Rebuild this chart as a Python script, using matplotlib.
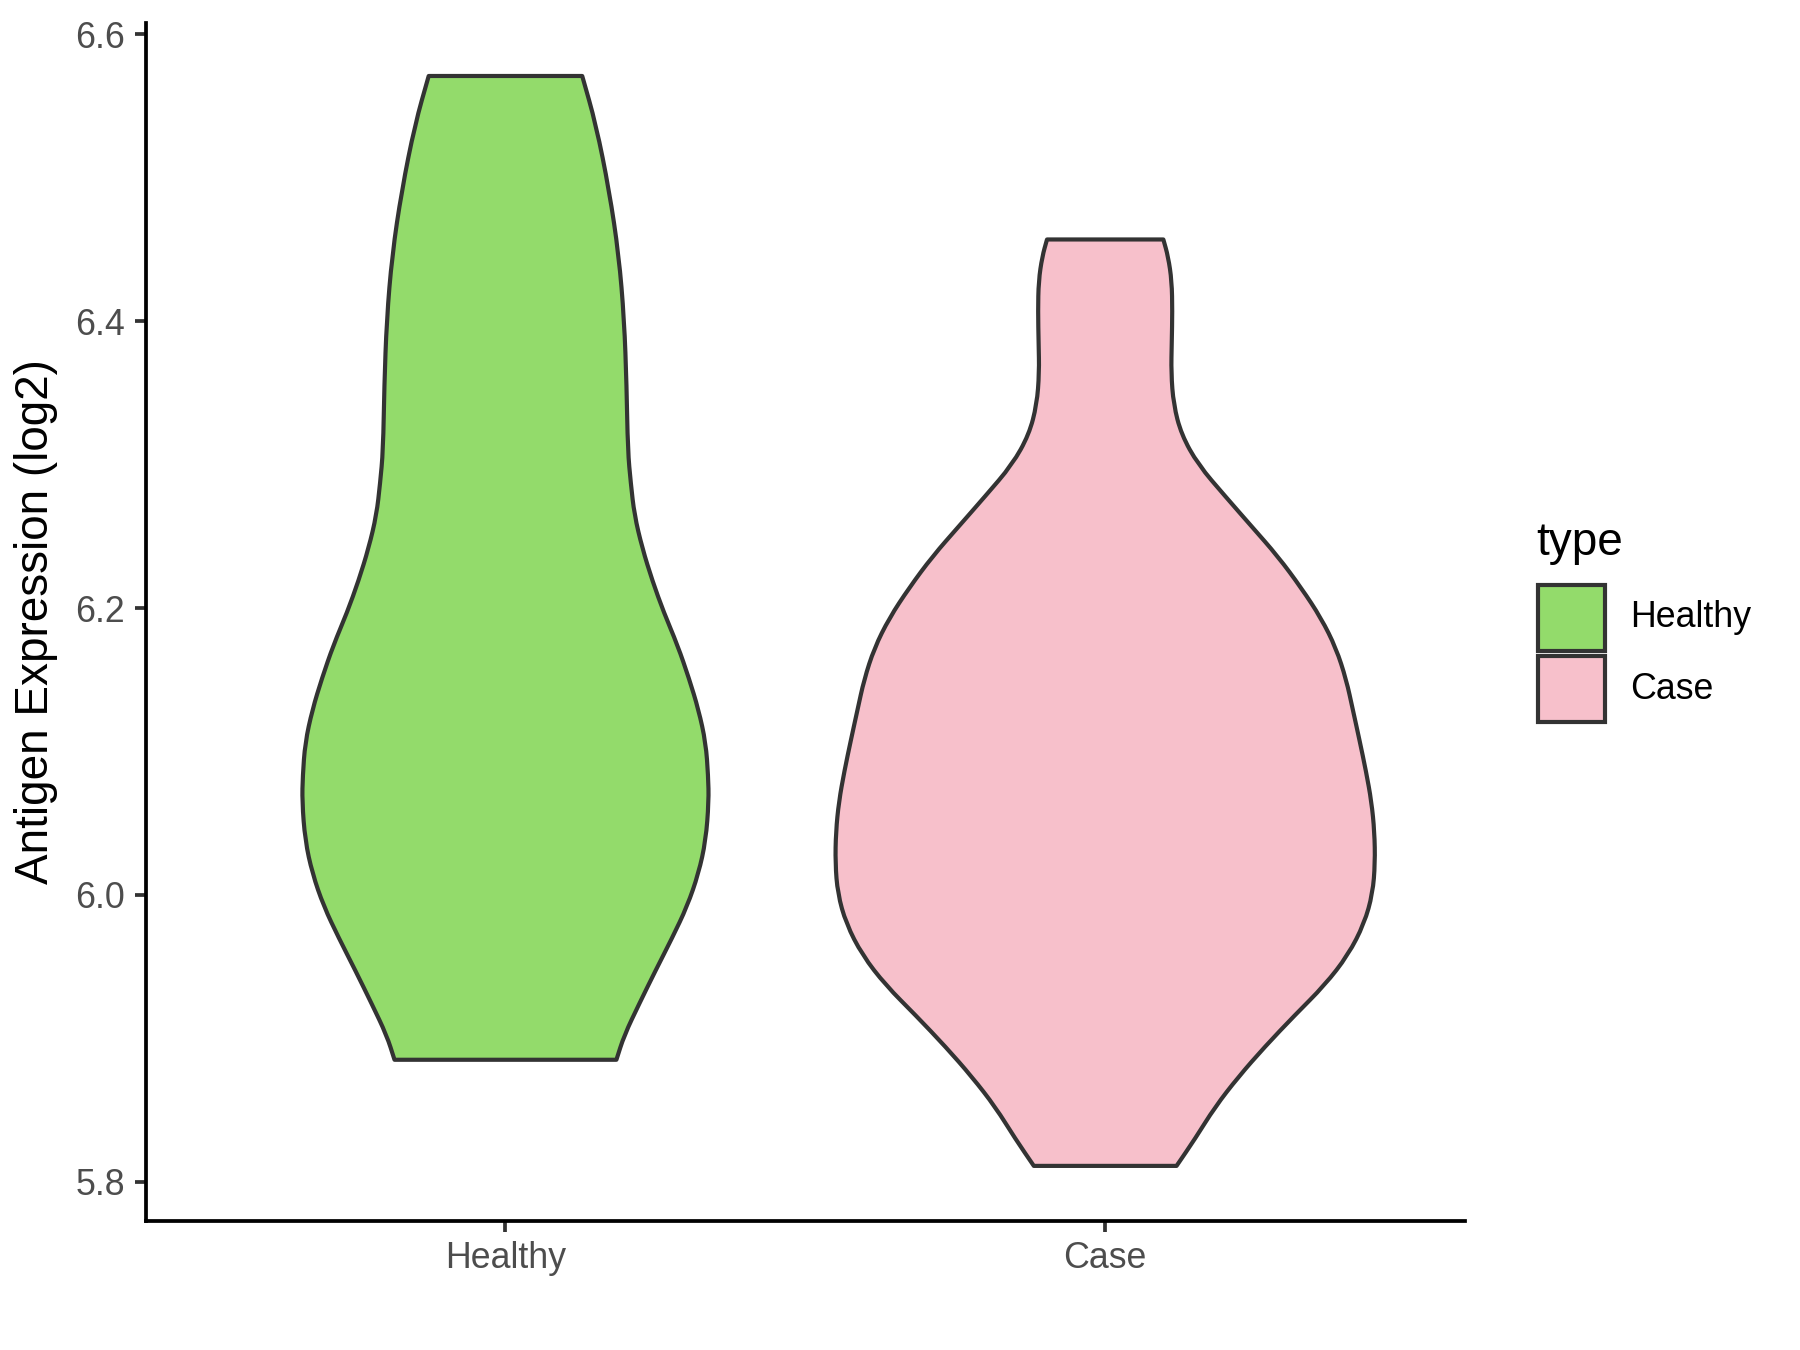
import numpy as np
import matplotlib.pyplot as plt
from matplotlib.patches import Rectangle, PathPatch
from matplotlib.path import Path

plt.rcParams['font.family'] = ['Liberation Sans', 'DejaVu Sans']

# categories and colours
groups = ['Healthy', 'Case']
fill_colors = ['#93DB6B', '#F7C0CB']

# violin outlines: expression level and half width
healthy_y = [6.571, 6.537, 6.491, 6.446, 6.401, 6.355, 6.310, 6.287, 6.265,
             6.242, 6.219, 6.197, 6.174, 6.151, 6.129, 6.106, 6.083, 6.065,
             6.038, 6.015, 5.992, 5.970, 5.947, 5.924, 5.902, 5.885]
healthy_hw = [0.128, 0.151, 0.173, 0.189, 0.198, 0.202, 0.204, 0.209, 0.215,
              0.228, 0.245, 0.264, 0.287, 0.306, 0.322, 0.334, 0.338, 0.339,
              0.334, 0.322, 0.303, 0.278, 0.250, 0.223, 0.198, 0.185]

case_y = [6.457, 6.445, 6.428, 6.407, 6.385, 6.364, 6.342, 6.321, 6.300,
          6.278, 6.257, 6.236, 6.214, 6.193, 6.172, 6.150, 6.129, 6.108,
          6.086, 6.065, 6.044, 6.022, 6.001, 5.980, 5.958, 5.937, 5.916,
          5.894, 5.873, 5.852, 5.830, 5.811]
case_hw = [0.097, 0.105, 0.111, 0.112, 0.111, 0.110, 0.114, 0.127, 0.155,
           0.200, 0.244, 0.288, 0.327, 0.360, 0.385, 0.402, 0.413, 0.424,
           0.435, 0.444, 0.449, 0.450, 0.446, 0.432, 0.405, 0.366, 0.316,
           0.266, 0.222, 0.183, 0.150, 0.119]

profiles = [(healthy_y, healthy_hw), (case_y, case_hw)]


def smooth_side(pts):
    # quadratic curves through midpoints so the side has no corners
    verts = [pts[0], (pts[0] + pts[1]) / 2]
    codes = [Path.LINETO, Path.LINETO]
    for i in range(1, len(pts) - 1):
        verts += [pts[i], (pts[i] + pts[i + 1]) / 2]
        codes += [Path.CURVE3, Path.CURVE3]
    verts.append(pts[-1])
    codes.append(Path.LINETO)
    return verts, codes


def violin_path(pos, ys, hws):
    ys = np.array(ys)
    hws = np.array(hws)
    left = np.column_stack([pos - hws, ys])
    right = np.column_stack([pos + hws, ys])[::-1]
    v1, c1 = smooth_side(left)
    v2, c2 = smooth_side(right)
    c1[0] = Path.MOVETO
    verts = v1 + v2 + [left[0]]
    codes = c1 + c2 + [Path.CLOSEPOLY]
    return Path(np.array(verts), codes)


fig = plt.figure(figsize=(6, 4.5), dpi=300)
ax = fig.add_axes([0.0809, 0.0958, 0.733, 0.8869])

edge = '#333333'
for i, (ys, hws) in enumerate(profiles):
    patch = PathPatch(violin_path(i + 1, ys, hws), facecolor=fill_colors[i],
                      edgecolor=edge, linewidth=1.0, joinstyle='round')
    ax.add_patch(patch)

ax.set_xlim(0.4, 2.6)
ax.set_ylim(5.7728, 6.6077)
ax.set_xticks([1, 2])
ax.set_xticklabels(groups)
ax.set_yticks([5.8, 6.0, 6.2, 6.4, 6.6])
ax.set_yticklabels(['5.8', '6.0', '6.2', '6.4', '6.6'])

for s in ['top', 'right']:
    ax.spines[s].set_visible(False)
for s in ['left', 'bottom']:
    ax.spines[s].set_linewidth(0.9)
    ax.spines[s].set_color('black')
ax.tick_params(axis='both', length=2.75, width=0.9, color='#333333',
               labelcolor='#4D4D4D', labelsize=8.6, pad=2.2)
ax.set_ylabel('Antigen Expression (log2)', fontsize=11, color='black', labelpad=4)

# legend
fig.text(0.8537, 0.5889, 'type', fontsize=11, va='baseline', ha='left')
key_bottoms = [0.5181, 0.4652]
label_ys = [0.5426, 0.4896]
for i, g in enumerate(groups):
    fig.add_artist(Rectangle((0.8547, key_bottoms[i]), 0.0367, 0.0489,
                             transform=fig.transFigure, facecolor=fill_colors[i],
                             edgecolor=edge, linewidth=1.0))
    fig.text(0.9055, label_ys[i], g, fontsize=8.6, va='center', ha='left')

fig.savefig('out.png', dpi=300)
